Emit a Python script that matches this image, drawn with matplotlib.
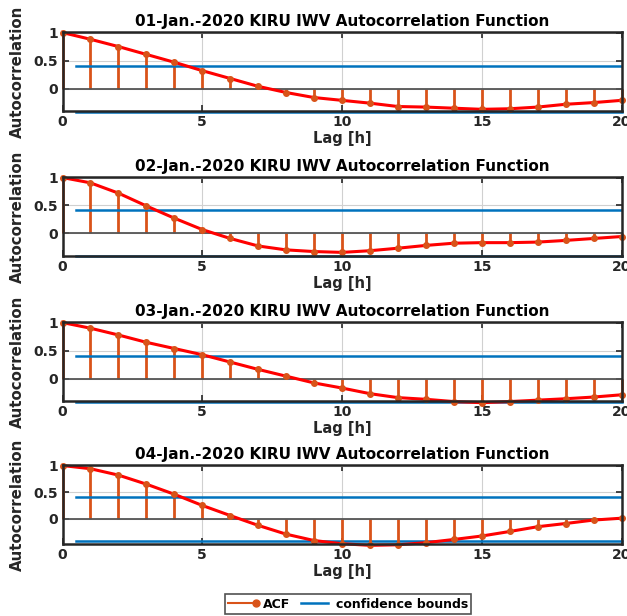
import numpy as np
import matplotlib
matplotlib.use("Agg")
import matplotlib.pyplot as plt
from matplotlib.lines import Line2D

# lags 0..20 h
lags = np.arange(21)

titles = ["01-Jan.-2020 KIRU IWV Autocorrelation Function",
          "02-Jan.-2020 KIRU IWV Autocorrelation Function",
          "03-Jan.-2020 KIRU IWV Autocorrelation Function",
          "04-Jan.-2020 KIRU IWV Autocorrelation Function"]

acf_day1 = [1.0, 0.88, 0.75, 0.61, 0.47, 0.32, 0.18, 0.04, -0.07, -0.16, -0.21,
            -0.26, -0.32, -0.33, -0.35, -0.37, -0.36, -0.33, -0.28, -0.25, -0.21]
acf_day2 = [1.0, 0.905, 0.72, 0.49, 0.27, 0.065, -0.095, -0.23, -0.30, -0.33, -0.345,
            -0.315, -0.27, -0.22, -0.18, -0.17, -0.17, -0.16, -0.13, -0.095, -0.06]
acf_day3 = [1.0, 0.90, 0.78, 0.65, 0.54, 0.43, 0.30, 0.17, 0.05, -0.07, -0.16,
            -0.26, -0.33, -0.36, -0.40, -0.42, -0.40, -0.375, -0.35, -0.32, -0.28]
acf_day4 = [1.0, 0.94, 0.82, 0.65, 0.46, 0.25, 0.06, -0.125, -0.29, -0.41, -0.47,
            -0.50, -0.49, -0.45, -0.39, -0.325, -0.24, -0.15, -0.09, -0.025, 0.01]
acfs = [acf_day1, acf_day2, acf_day3, acf_day4]

conf_bound = 0.41
ymins = [-0.40, -0.41, -0.39, -0.475]

orange = "#D95319"
blue = "#0072BD"
dark = "#262626"

plt.rcParams["font.family"] = "DejaVu Sans"
plt.rcParams["font.weight"] = "bold"

fig = plt.figure(figsize=(6.27, 6.16), dpi=100)

W, H = 627.0, 616.0
tops = [32, 177, 322, 465]
ax_h = 79
left, right = 62.5, 621.5

for i in range(4):
    ax = fig.add_axes([left / W, 1 - (tops[i] + ax_h) / H, (right - left) / W, ax_h / H])
    acf = acfs[i]
    # stems
    ax.vlines(lags, 0, acf, color=orange, lw=2, zorder=2, clip_on=False)
    ax.axhline(0, color="#555555", lw=1.3, zorder=2)
    ax.plot(lags, acf, color="red", lw=2.2, zorder=3, clip_on=False)
    ax.plot(lags, acf, "o", color=orange, ms=4, zorder=4, clip_on=False)
    # confidence bounds
    ax.plot([0.5, 20], [conf_bound, conf_bound], color=blue, lw=1.8, zorder=2)
    ax.plot([0.5, 20], [-conf_bound, -conf_bound], color=blue, lw=1.8, zorder=1, clip_on=False)

    ax.set_xlim(0, 20)
    ax.set_ylim(ymins[i], 1.01)
    ax.set_xticks([0, 5, 10, 15, 20])
    ax.set_yticks([0, 0.5, 1])
    ax.set_yticklabels(["0", "0.5", "1"])
    ax.grid(True, color="#d0d0d0", lw=0.8)
    ax.set_axisbelow(True)
    ax.tick_params(direction="in", top=True, right=True, length=4, width=1.2,
                   colors=dark, labelsize=10, pad=3)
    for s in ax.spines.values():
        s.set_color(dark)
        s.set_linewidth(1.8)
        s.set_zorder(5)
    ax.set_title(titles[i], fontsize=11, fontweight="bold", pad=4)
    ax.set_xlabel("Lag [h]", fontsize=10.5, fontweight="bold", color=dark, labelpad=1)
    ax.set_ylabel("Autocorrelation", fontsize=10.8, fontweight="bold", color=dark)
    ax.yaxis.set_label_coords(-0.068, 0.5)

handles = [Line2D([], [], color=orange, lw=1.5, marker="o", ms=5),
           Line2D([], [], color=blue, lw=1.8)]
leg = fig.legend(handles, ["ACF", "confidence bounds"], loc="center",
                 bbox_to_anchor=(348 / W, 1 - 604 / H), ncol=2, frameon=True,
                 fancybox=False, edgecolor=dark, fontsize=9, handlelength=2.2,
                 handletextpad=0.6, columnspacing=0.8, borderpad=0.25,
                 borderaxespad=0)
leg.get_frame().set_linewidth(1.2)
# put the ACF marker at the right end of its legend line
for ln in leg.get_lines():
    if ln.get_marker() not in (None, "None", ""):
        ln.set_markevery([len(ln.get_xdata()) - 1])

fig.savefig("out.png", dpi=100)
